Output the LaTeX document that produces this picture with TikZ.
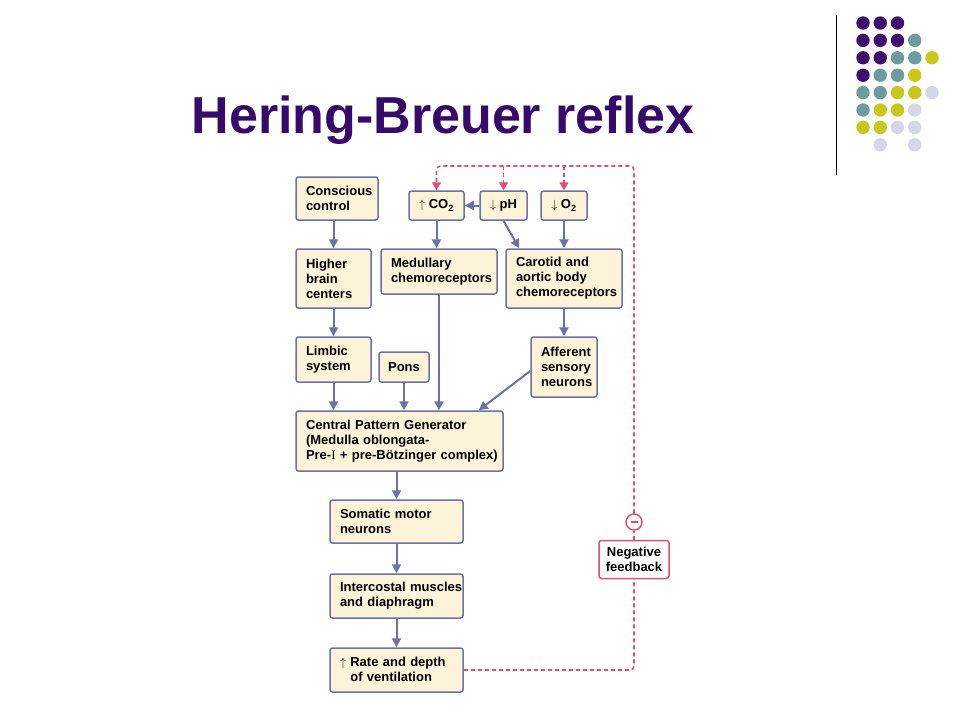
\documentclass[tikz,border=0pt]{standalone}
\usepackage{fontspec}
\setmainfont{Liberation Sans}
\newfontfamily\romanfont{Liberation Serif}
\usetikzlibrary{arrows.meta}
\definecolor{titlepurple}{HTML}{360A6A}
\definecolor{boxfill}{HTML}{FDF3D8}
\definecolor{boxline}{HTML}{6A72A8}
\definecolor{fbred}{HTML}{E0506C}
\definecolor{dotpurple}{HTML}{3E0F6E}
\definecolor{dotteal}{HTML}{6C9C9E}
\definecolor{dotyellow}{HTML}{C8C81A}
\definecolor{dotlilac}{HTML}{D6D6EA}
\tikzset{
  box/.style={draw=boxline, fill=boxfill, line width=1.5pt, rounded corners=2.5pt,
    align=left, inner sep=0pt, font=\fontsize{13}{15}\selectfont\bfseries,
    execute at begin node={\hyphenpenalty=10000\exhyphenpenalty=10000}},
  flow/.style={draw=boxline, line width=2pt, -{Triangle[length=9pt,width=9pt]}},
  fb/.style={draw=fbred, line width=1.6pt, dash pattern=on 4pt off 3pt},
  fbarrow/.style={fb, -{Triangle[length=8pt,width=9pt]}},
}
\begin{document}
\begin{tikzpicture}[x=1pt,y=-1pt]
\useasboundingbox (0,0) rectangle (960,720);
%\draw[step=50,gray,very thin] (0,0) grid (960,720);
\node[anchor=base, inner sep=0pt, text=titlepurple,
  font=\fontsize{52}{60}\selectfont\bfseries] (title) at (443,133) {Hering-Breuer reflex};
% corner decoration
\draw[line width=1pt] (836,15) -- (836,175);
\foreach \c/\r/\col in {0/0/dotpurple,1/0/dotpurple,2/0/dotpurple,
  0/1/dotpurple,1/1/dotpurple,2/1/dotpurple,3/1/dotteal,
  0/2/dotpurple,1/2/dotpurple,2/2/dotteal,3/2/dotteal,4/2/dotyellow,
  0/3/dotpurple,1/3/dotteal,2/3/dotteal,3/3/dotyellow,
  0/4/dotteal,1/4/dotteal,2/4/dotyellow,3/4/dotyellow,4/4/dotlilac,
  0/5/dotteal,1/5/dotyellow,2/5/dotyellow,3/5/dotlilac,
  0/6/dotyellow,1/6/dotyellow,2/6/dotlilac,3/6/dotlilac,
  1/7/dotlilac,3/7/dotlilac}
  \fill[\col] ({863+17.25*\c},{23+17.4*\r}) circle (6.7);
% boxes
\node[box, minimum width=82, minimum height=43, text width=62] (conscious) at (337,198.5) {Conscious\\control};
\node[box, minimum width=75, minimum height=59, text width=55] (higher) at (333.5,278.5) {Higher\\brain\\centers};
\node[box, minimum width=75, minimum height=45, text width=55] (limbic) at (333.5,359.5) {Limbic\\system};
\node[box, minimum width=50, minimum height=30, align=center] (pons) at (404,367) {Pons};
\node[box, minimum width=55, minimum height=29] (co2) at (436.5,205.5) {$\uparrow$ CO\textsubscript{2}};
\node[box, minimum width=47, minimum height=29] (ph) at (503.5,205.5) {$\downarrow$ pH};
\node[box, minimum width=46, minimum height=29] (o2) at (564,205.5) {$\downarrow$ O\textsubscript{2}};
\node[box, minimum width=116, minimum height=45, text width=96] (medullary) at (439,271.5) {Medullary\\chemoreceptors};
\node[box, minimum width=116, minimum height=59, text width=96] (carotid) at (564,278.5) {Carotid~and\\aortic~body\\chemoreceptors};
\node[box, minimum width=66, minimum height=60, text width=46] (afferent) at (564,367) {Afferent\\sensory\\neurons};
\node[box, minimum width=207, minimum height=60, text width=187] (cpg) at (399.5,441)
  {Central~Pattern~Generator\\(Medulla~oblongata-\\Pre-{\romanfont\mdseries I}~+~pre-Bötzinger~complex)};
\node[box, minimum width=133, minimum height=43, text width=113] (somatic) at (396.5,521.5) {Somatic~motor\\neurons};
\node[box, minimum width=133, minimum height=44, text width=113] (intercostal) at (396.5,596) {Intercostal~muscles\\and~diaphragm};
\node[box, minimum width=133, minimum height=44, text width=113] (rate) at (396.5,670)
  {$\uparrow$~Rate~and~depth\\\phantom{$\uparrow$~}of~ventilation};
\node[box, draw=fbred, fill=white, align=center, minimum width=70, minimum height=38] (negfb) at (634,559.5) {Negative\\feedback};
\node[circle, draw=fbred, fill=white, line width=1.5pt, minimum size=16, inner sep=0pt,
  path picture={\draw[fbred, line width=2pt]
    ([xshift=-3.5pt]path picture bounding box.center) -- ([xshift=3.5pt]path picture bounding box.center);}]
  (minus) at (634,522) {};
\coordinate (top) at (634,166);
% arrows
\draw[flow] (higher.north |- conscious.south) -- (higher.north);
\draw[flow] (higher) -- (limbic);
\draw[flow] (limbic) -- (limbic |- cpg.north);
\draw[flow] (pons) -- (pons |- cpg.north);
\draw[flow] (medullary) -- (medullary |- cpg.north);
\draw[flow] ([yshift=-4pt]afferent.west) -- ([xshift=-25pt]cpg.north east);
\draw[flow] (co2.south) -- (co2.south |- medullary.north);
\draw[flow] (ph.west) -- (co2.east);
\draw[flow] (ph.south) -- ([xshift=14pt]carotid.north west);
\draw[flow] (o2) -- (carotid);
\draw[flow] (carotid) -- (afferent);
\draw[flow] (somatic.north |- cpg.south) -- (somatic.north);
\draw[flow] (somatic) -- (intercostal);
\draw[flow] (intercostal) -- (rate);
% feedback loop
\draw[fb, rounded corners=4pt] (rate.east) -- (rate.east -| negfb.south) -- (negfb.south);
\draw[fb] (negfb.north) -- (minus.south);
\draw[fbarrow, rounded corners=4pt] (minus.north) -- (top) -- (top -| co2.north) -- (co2.north);
\draw[fbarrow] (top -| ph.north) -- (ph.north);
\draw[fbarrow] (top -| o2.north) -- (o2.north);
\end{tikzpicture}
\end{document}
